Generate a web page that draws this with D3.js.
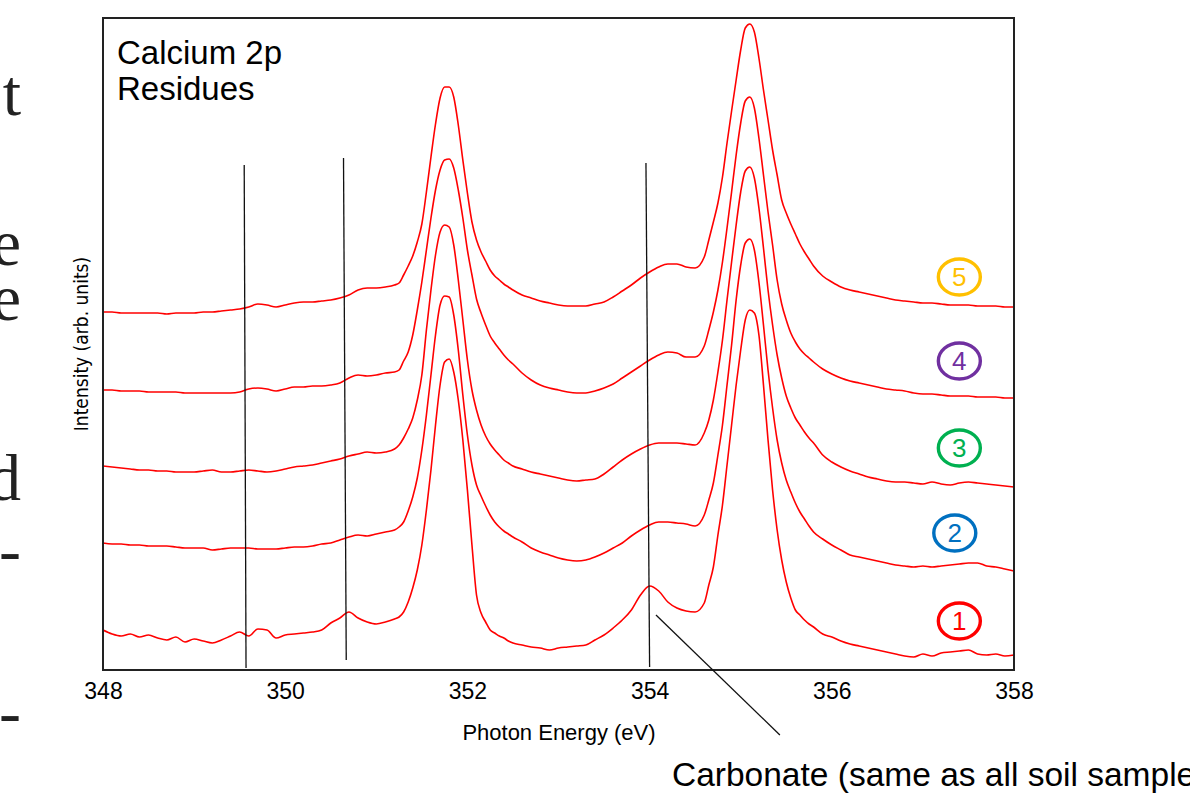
<!DOCTYPE html>
<html>
<head>
<meta charset="utf-8">
<script src="https://cdn.jsdelivr.net/npm/d3@7/dist/d3.min.js"></script>
<style>
  body { margin: 0; background: #fff; overflow: hidden; }
  text { font-family: "Liberation Sans", Arial, sans-serif; }
</style>
</head>
<body>
<svg width="1190" height="793"></svg>
<script>
// DATA

// photon energy grid (eV): 0.1 eV steps, 0.05 eV steps across the two Ca 2p peaks
var energies = [].concat(
  d3.range(33).map(function(i) { return +(348 + i * 0.1).toFixed(2); }),
  d3.range(26).map(function(i) { return +(351.25 + i * 0.05).toFixed(2); }),
  d3.range(21).map(function(i) { return +(352.6 + i * 0.1).toFixed(2); }),
  d3.range(24).map(function(i) { return +(354.65 + i * 0.05).toFixed(2); }),
  d3.range(22).map(function(i) { return +(355.9 + i * 0.1).toFixed(2); })
);

// intensities (arb. units, already offset for stacking)
var residue1 = [40,36,34,36,33,35,32,30,33,28,31,29,27,30,34,38,34,41,40,32,35,36,37,38,40,47,52,58,52,48,46,48,51,
  53,58,68,82,100,125,160,200,245,285,308,311,298,270,230,180,125,75,57,48,40,37,34,32,29,27,
  25,23,22,20,22,23,24,25,30,35,42,50,60,75,84,79,68,62,59,58,67,
  85,103,135,165,205,245,285,320,350,360,357,335,285,230,180,140,110,88,72,60,55,50,46,43,
  36,33,29,26,24,22,20,18,16,14,13,16,14,17,18,19,20,16,15,16,14,15];

var residue2 = [127,126,126,125,125,124,124,124,123,122,122,122,120,121,122,122,122,121,121,121,122,123,123,124,126,127,130,133,135,134,136,138,140,
  143,148,159,173,192,220,255,295,335,365,374,373,355,320,275,235,205,185,174,164,155,148,143,139,136,133,
  128,122,118,115,112,110,109,110,113,117,122,127,134,140,145,148,148,147,146,144,155,
  170,187,215,245,285,325,370,405,427,431,420,388,345,300,262,230,207,190,178,167,158,151,144,138,
  131,125,120,115,113,111,109,107,105,104,103,104,103,104,105,106,107,107,104,103,101,99];

var residue3 = [204,203,202,201,200,200,199,199,198,198,198,199,200,198,198,199,200,199,198,199,201,203,204,205,207,209,211,214,216,218,217,218,221,
  225,232,241,252,270,295,340,380,415,438,445,443,425,390,350,310,280,260,245,234,226,220,215,210,207,204,
  201,198,196,194,192,190,189,190,191,196,203,210,216,221,225,227,227,227,226,225,237,
  250,270,298,330,370,408,445,478,499,503,492,462,422,380,345,315,292,274,262,252,245,238,232,227,
  215,208,203,199,196,193,191,189,188,188,187,186,188,186,185,187,188,187,186,185,184,183];

var residue4 = [280,280,279,279,279,278,278,278,278,277,277,277,277,277,277,278,281,282,281,279,281,283,283,284,284,285,287,292,295,294,295,297,298,
  300,309,318,335,360,388,420,452,480,500,510,511,502,480,452,420,395,371,357,345,334,327,321,315,310,306,
  297,290,285,282,280,278,277,277,279,282,286,292,298,304,310,315,318,317,313,313,324,
  340,358,380,408,442,478,515,547,569,573,562,532,495,458,425,390,366,350,337,328,321,316,312,308,
  301,296,292,289,287,285,283,281,280,279,277,276,276,275,274,274,274,273,273,273,272,272];

var residue5 = [358,358,357,357,357,357,357,356,357,357,357,358,358,359,360,361,363,366,365,363,365,367,368,368,369,370,372,375,380,382,382,383,385,
  387,395,404,414,428,446,478,513,546,572,583,583,573,545,510,477,448,430,418,409,400,394,390,386,383,380,
  375,372,369,367,365,364,364,364,366,368,373,379,385,392,398,403,406,406,403,402,413,
  430,448,467,493,527,559,590,620,642,646,638,612,580,550,520,495,470,457,446,436,426,418,411,404,
  394,388,383,380,378,376,374,372,370,369,368,367,367,366,365,365,365,364,364,364,363,363];

var series = [residue1, residue2, residue3, residue4, residue5];
var sampleNames = ["1", "2", "3", "4", "5"];
var sampleColors = ["#ff0000", "#0070c0", "#00b050", "#7030a0", "#ffc000"];
var labelEnergy = [357.4, 357.35, 357.4, 357.4, 357.4];
var labelLevel = [49, 137, 222, 309, 393];

var xTicks = [348, 350, 352, 354, 356, 358];

// reference lines: energy / intensity at top and bottom end
var refLines = [
  { e0: 349.55, i0: 505, e1: 349.57, i1: 2 },
  { e0: 350.64, i0: 512, e1: 350.67, i1: 10 },
  { e0: 353.96, i0: 507, e1: 354.0, i1: 3 }
];
var pointer = { e0: 354.07, i0: 55, e1: 355.43, i1: -65 };

var slideLetters = ["t", "e", "e", "d", "-", "-"];

// LAYOUT

var svg = d3.select("svg"),
    plotL = 103, plotR = 1014, plotT = 18, plotB = 670;

var x = d3.scaleLinear().domain([348, 358]).range([plotL, plotR]);
var y = d3.scaleLinear().domain([0, 652]).range([plotB, plotT]);

// cut-off slide text on the left edge
var letterBase = [115, 265, 320, 500, 572, 734];
svg.selectAll("text.slide")
  .data(slideLetters)
  .enter().append("text")
    .attr("class", "slide")
    .attr("x", 21)
    .attr("y", function(d, i) { return letterBase[i]; })
    .attr("text-anchor", "end")
    .style("font-family", "'Liberation Serif', 'Times New Roman', serif")
    .style("font-size", "66px")
    .style("fill", "#222")
    .text(function(d) { return d; });

// spectra
var line = d3.line()
  .x(function(d, i) { return x(energies[i]); })
  .y(function(d) { return y(d); })
  .curve(d3.curveMonotoneX);

svg.append("g").selectAll("path")
  .data(series)
  .enter().append("path")
    .attr("d", line)
    .attr("fill", "none")
    .attr("stroke", "#ff0000")
    .attr("stroke-width", 1.6);

// frame
svg.append("rect")
  .attr("x", plotL).attr("y", plotT)
  .attr("width", plotR - plotL).attr("height", plotB - plotT)
  .attr("fill", "none")
  .attr("stroke", "#222")
  .attr("stroke-width", 2);

// reference lines
svg.append("g").selectAll("line")
  .data(refLines)
  .enter().append("line")
    .attr("x1", function(d) { return x(d.e0); })
    .attr("y1", function(d) { return y(d.i0); })
    .attr("x2", function(d) { return x(d.e1); })
    .attr("y2", function(d) { return y(d.i1); })
    .attr("stroke", "#111")
    .attr("stroke-width", 1.3);

svg.append("line")
  .attr("x1", x(pointer.e0)).attr("y1", y(pointer.i0))
  .attr("x2", x(pointer.e1)).attr("y2", y(pointer.i1))
  .attr("stroke", "#111")
  .attr("stroke-width", 1.3);

// x axis
var xAxis = d3.axisBottom(x).tickValues(xTicks).tickSize(0).tickPadding(13)
  .tickFormat(d3.format("d"));
var gx = svg.append("g").attr("transform", "translate(0," + plotB + ")").call(xAxis);
gx.select(".domain").remove();
gx.selectAll("text")
  .style("font-family", "'Liberation Sans', Arial, sans-serif")
  .style("font-size", "23px")
  .style("fill", "#000");

svg.append("text")
  .attr("x", 559)
  .attr("y", 740)
  .attr("text-anchor", "middle")
  .style("font-size", "22px")
  .text("Photon Energy (eV)");

svg.append("text")
  .attr("transform", "translate(88,344) rotate(-90)")
  .attr("text-anchor", "middle")
  .style("font-family", "'Liberation Sans Narrow', 'DejaVu Sans Condensed', sans-serif")
  .style("font-size", "19px")
  .text("Intensity (arb. units)");

// title
svg.append("text").attr("x", 117).attr("y", 64).style("font-size", "33px").text("Calcium 2p");
svg.append("text").attr("x", 117).attr("y", 100).style("font-size", "33px").text("Residues");

// sample labels
var lab = svg.append("g").selectAll("g")
  .data(sampleNames)
  .enter().append("g")
    .attr("transform", function(d, i) { return "translate(" + x(labelEnergy[i]) + "," + y(labelLevel[i]) + ")"; });
lab.append("ellipse")
  .attr("rx", 21).attr("ry", 18)
  .attr("fill", "none")
  .attr("stroke", function(d, i) { return sampleColors[i]; })
  .attr("stroke-width", 3.4);
lab.append("text")
  .attr("text-anchor", "middle")
  .attr("dy", "0.36em")
  .style("font-size", "26px")
  .style("fill", function(d, i) { return sampleColors[i]; })
  .text(function(d) { return d; });

// annotation
svg.append("text")
  .attr("x", 672).attr("y", 786)
  .style("font-size", "33.5px")
  .text("Carbonate (same as all soil samples)");
</script>
</body>
</html>
